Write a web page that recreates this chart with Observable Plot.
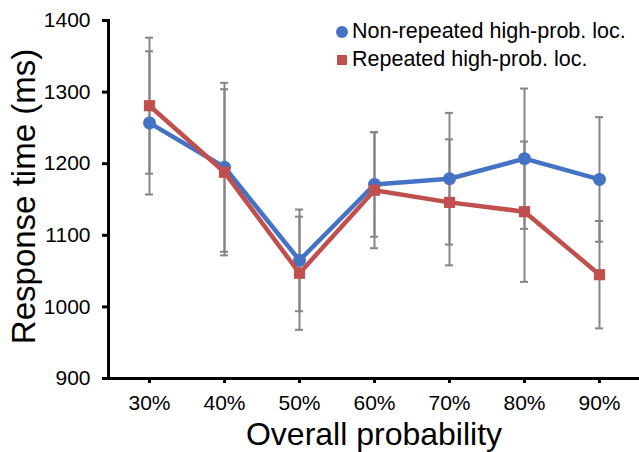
<!DOCTYPE html>
<html><head><meta charset="utf-8">
<script src="https://cdn.jsdelivr.net/npm/d3@7"></script>
<script src="https://cdn.jsdelivr.net/npm/@observablehq/plot@0.6"></script>
<style>
body{margin:0;background:#fff;font-family:"Liberation Sans",Arial,sans-serif;}
#wrap{position:relative;width:639px;height:452px;overflow:hidden;}
#wrap svg{position:absolute;left:0;top:0;}
.leg{position:absolute;left:352px;font-size:21.5px;color:#000;white-space:nowrap;line-height:1;}
.title{position:absolute;width:400px;height:32px;line-height:32px;font-size:32px;text-align:center;color:#000;white-space:nowrap;}
</style></head><body><div id="wrap"></div>
<script>
const categories = ["30%","40%","50%","60%","70%","80%","90%"];
const seriesNames = ["Non-repeated high-prob. loc.","Repeated high-prob. loc."];
const nonRepeated = [1257,1195,1065,1171,1179,1207,1178];
const nonRepeatedErr = [100,118,71,73,92,98,87];
const repeated = [1281,1188,1047,1163,1146,1133,1045];
const repeatedErr = [95,116,79,81,88,98,75];
const yTicks = [900,1000,1100,1200,1300,1400];
const xTitle = "Overall probability";
const yTitle = "Response time (ms)";
const colors = ["#4472C4","#C0504D"];

const rows = [];
categories.forEach((c,i)=>{
  rows.push({cat:c, series:seriesNames[0], v:nonRepeated[i], e:nonRepeatedErr[i]});
  rows.push({cat:c, series:seriesNames[1], v:repeated[i], e:repeatedErr[i]});
});
const blue = rows.filter(d=>d.series===seriesNames[0]);
const red = rows.filter(d=>d.series===seriesNames[1]);
const gray = "#858585";

const chart = Plot.plot({
  width:639, height:452,
  marginLeft:108, marginRight:0, marginTop:20, marginBottom:74,
  style:{fontFamily:'"Liberation Sans",Arial,sans-serif', color:"#000", background:"#fff"},
  x:{type:"band", domain:categories, paddingInner:0.894, paddingOuter:0.447, label:null},
  y:{domain:[900,1400], label:null},
  marks:[
    Plot.ruleX(rows,{x:"cat", y1:d=>d.v-d.e, y2:d=>d.v+d.e, stroke:gray, strokeWidth:2}),
    Plot.tickY(rows,{x:"cat", y:d=>d.v-d.e, stroke:gray, strokeWidth:2}),
    Plot.tickY(rows,{x:"cat", y:d=>d.v+d.e, stroke:gray, strokeWidth:2}),
    Plot.line(blue,{x:"cat", y:"v", stroke:colors[0], strokeWidth:4.5}),
    Plot.dot(blue,{x:"cat", y:"v", fill:colors[0], r:6.5}),
    Plot.line(red,{x:"cat", y:"v", stroke:colors[1], strokeWidth:4.5}),
    Plot.dot(red,{x:"cat", y:"v", fill:colors[1], symbol:"square", r:6.3}),
    Plot.axisY({ticks:yTicks, tickFormat:d=>String(d), tickSize:6, tickPadding:12, fontSize:21, strokeWidth:3, label:null}),
    Plot.axisX({tickSize:5, tickPadding:12, fontSize:21, strokeWidth:3, label:null}),
    Plot.frame({anchor:"left", stroke:"#000", strokeWidth:3}),
    Plot.ruleY([900],{stroke:"#000", strokeWidth:3})
  ]
});
const wrap = document.getElementById("wrap");
wrap.appendChild(chart);

// axis titles
const xt = document.createElement("div");
xt.className="title"; xt.textContent=xTitle;
xt.style.left=(374-200)+"px"; xt.style.top="418px";
wrap.appendChild(xt);
const yt = document.createElement("div");
yt.className="title"; yt.textContent=yTitle;
yt.style.width="420px";
yt.style.fontSize="33px";
yt.style.height="33px"; yt.style.lineHeight="33px";
yt.style.left=(22.5-210)+"px"; yt.style.top=(196.5-16.5)+"px";
yt.style.transform="rotate(-90deg)";
wrap.appendChild(yt);

// legend
const legY = [32, 60];
seriesNames.forEach((name,i)=>{
  const s = document.createElement("div");
  if(i===0){
    s.style.cssText=`position:absolute;left:336px;top:${legY[i]-6}px;width:12px;height:12px;border-radius:50%;background:${colors[0]};`;
  } else {
    s.style.cssText=`position:absolute;left:337px;top:${legY[i]-5}px;width:10px;height:10px;background:${colors[1]};`;
  }
  wrap.appendChild(s);
  const t = document.createElement("div");
  t.className="leg";
  t.textContent=name;
  t.style.top=(legY[i]-11)+"px";
  wrap.appendChild(t);
});
</script>
</body></html>
